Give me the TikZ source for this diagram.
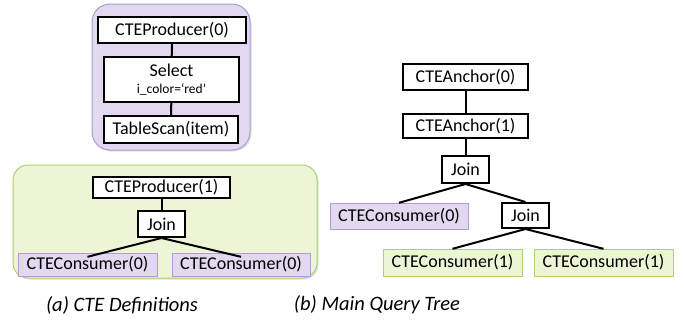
\documentclass[tikz,border=0pt]{standalone}
\usepackage{fontspec}
\setmainfont{Carlito}
\usetikzlibrary{shadows}
\definecolor{lavfill}{RGB}{226,216,240}
\definecolor{lavline}{RGB}{176,156,206}
\definecolor{limefill}{RGB}{236,246,214}
\definecolor{limeline}{RGB}{176,206,118}
\tikzset{
  op/.style={draw=black, line width=2pt, fill=white, inner sep=0pt,
    font=\fontsize{18}{20}\selectfont},
  cons0/.style={draw=lavline, fill=lavfill, inner sep=0pt,
    font=\fontsize{18}{20}\selectfont,
    drop shadow={opacity=0.25, shadow xshift=1.2pt, shadow yshift=-1.2pt}},
  cons1/.style={draw=limeline, fill=limefill, inner sep=0pt,
    font=\fontsize{18}{20}\selectfont,
    drop shadow={opacity=0.25, shadow xshift=1.2pt, shadow yshift=-1.2pt}},
  link/.style={line width=2pt, black},
  caption/.style={font=\fontsize{20.5}{22}\selectfont\itshape}
}
\begin{document}
\begin{tikzpicture}[x=1pt, y=-1pt]
  \useasboundingbox (0,0) rectangle (684,324);
  % the two CTE containers
  \filldraw[lavline, fill=lavfill, line width=1pt, rounded corners=18pt,
    drop shadow={opacity=0.25, shadow xshift=1.5pt, shadow yshift=-1.5pt}]
    (92,4) rectangle (250,150);
  \filldraw[limeline, fill=limefill, line width=1pt, rounded corners=15pt,
    drop shadow={opacity=0.25, shadow xshift=1.5pt, shadow yshift=-1.5pt}]
    (13,165) rectangle (317,278);
  % (a) CTE 0
  \node[op, minimum width=148pt, minimum height=26pt] (prod0) at (172,30) {CTEProducer(0)};
  \node[op, minimum width=135pt, minimum height=45pt, align=center] (sel) at (171.5,79.5)
    {Select\\[-3pt]{\fontsize{13.5}{15}\selectfont i\_color=`red'}};
  \node[op, minimum width=134pt, minimum height=27pt] (scan) at (171,129.5) {TableScan(item)};
  \draw[link] (prod0) -- (sel);
  \draw[link] (sel) -- (scan);
  % (a) CTE 1
  \node[op, minimum width=137pt, minimum height=21pt] (prod1) at (161.5,187.5) {CTEProducer(1)};
  \node[op, minimum width=47pt, minimum height=26pt] (joinc) at (161.5,224) {Join};
  \node[cons0, minimum width=139pt, minimum height=23pt] (ca) at (87.5,264.5) {CTEConsumer(0)};
  \node[cons0, minimum width=138pt, minimum height=23pt] (cb) at (241,264.5) {CTEConsumer(0)};
  \draw[link] (prod1) -- (joinc);
  \draw[link] (joinc.south) -- ([yshift=-4pt]ca.north);
  \draw[link] (joinc.south) -- ([yshift=-4pt]cb.north);
  % (b) main query tree
  \node[op, minimum width=125pt, minimum height=26pt] (anc0) at (465.5,77) {CTEAnchor(0)};
  \node[op, minimum width=125pt, minimum height=24pt] (anc1) at (465.5,126) {CTEAnchor(1)};
  \node[op, minimum width=47pt, minimum height=27pt] (joina) at (465.5,169.5) {Join};
  \node[cons0, minimum width=138pt, minimum height=26pt] (mc0) at (399,216) {CTEConsumer(0)};
  \node[op, minimum width=47pt, minimum height=25pt] (joinb) at (525.5,215.5) {Join};
  \node[cons1, minimum width=139pt, minimum height=27pt] (mc1a) at (452.5,262.5) {CTEConsumer(1)};
  \node[cons1, minimum width=139pt, minimum height=27pt] (mc1b) at (603.5,262.5) {CTEConsumer(1)};
  \draw[link] (anc0) -- (anc1);
  \draw[link] (anc1) -- (joina);
  \draw[link] (joina.south) -- (mc0.north);
  \draw[link] (joina.south) -- (joinb.north);
  \draw[link] (joinb.south) -- (mc1a.north);
  \draw[link] (joinb.south) -- (mc1b.north);
  % captions
  \node[caption] (capa) at (122,305) {(a) CTE Definitions};
  \node[caption] (capb) at (377,305) {(b) Main Query Tree};
\end{tikzpicture}
\end{document}
